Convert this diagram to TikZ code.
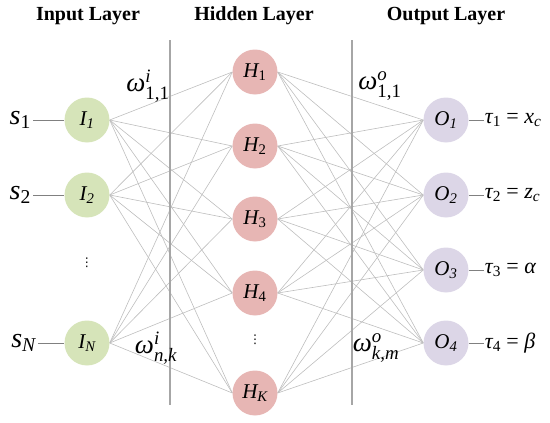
\documentclass[tikz,border=0pt]{standalone}
\usepackage{amsmath}
\usepackage{fontspec}
\setmainfont{Liberation Serif}
\newfontfamily\dotfont{DejaVu Sans}
\usetikzlibrary{positioning,backgrounds}
\definecolor{netLine}{HTML}{BEBEBE}
\definecolor{netBar}{HTML}{A6A6A6}
\definecolor{netFeed}{HTML}{808080}
\definecolor{netIn}{HTML}{D6E4B9}
\definecolor{netHid}{HTML}{E7B6B4}
\definecolor{netOut}{HTML}{DCD6E7}
\newcommand\ti[1]{\text{\itshape #1}}

\begin{document}
\begin{tikzpicture}[
  x=1pt,y=-1pt,
  neuron/.style={circle, minimum size=45pt, inner sep=0pt,
    font=\fontsize{21}{21}\selectfont},
  link/.style={draw=netLine, line width=0.6pt},
  feed/.style={draw=netFeed, line width=0.8pt},
  bar/.style={draw=netBar, line width=2.6pt},
  title/.style={font=\fontsize{20}{20}\selectfont\bfseries},
  sig/.style={font=\fontsize{28}{28}\selectfont, inner sep=2pt},
  tau/.style={font=\fontsize{22}{22}\selectfont, inner sep=1pt},
  wgt/.style={font=\fontsize{27}{27}\selectfont, inner sep=0pt},
  vdot/.style={font=\dotfont\fontsize{12}{12}\selectfont, inner sep=0pt}
]
\useasboundingbox (0,0) rectangle (550,423);

% layer titles
\node[title] (tIn) at (88,16) {Input Layer};
\node[title] (tHid) at (254,16) {Hidden Layer};
\node[title] (tOut) at (446,16) {Output Layer};

% neurons
\node[neuron, fill=netIn] (I1) at (87,120) {$\ti{I}_{\ti{1}}$};
\node[neuron, fill=netIn] (I2) at (87,195) {$\ti{I}_{\ti{2}}$};
\node[neuron, fill=netIn] (IN) at (87,343) {$\ti{I}_{\ti{N}}$};
\node[vdot] (dotI) at (87,263) {⋮};

\node[neuron, fill=netHid] (H1) at (255,72) {$\ti{H}_{\text{1}}$};
\node[neuron, fill=netHid] (H2) at (255,146) {$\ti{H}_{\text{2}}$};
\node[neuron, fill=netHid] (H3) at (255,219) {$\ti{H}_{\text{3}}$};
\node[neuron, fill=netHid] (H4) at (255,293) {$\ti{H}_{\text{4}}$};
\node[neuron, fill=netHid] (HK) at (255,393) {$\ti{H}_{\ti{K}}$};
\node[vdot] (dotH) at (255,340) {⋮};

\node[neuron, fill=netOut] (O1) at (446,120) {$\ti{O}_{\ti{1}}$};
\node[neuron, fill=netOut] (O2) at (446,195) {$\ti{O}_{\ti{2}}$};
\node[neuron, fill=netOut] (O3) at (446,270) {$\ti{O}_{\ti{3}}$};
\node[neuron, fill=netOut] (O4) at (446,343) {$\ti{O}_{\ti{4}}$};

% weights and layer separators, behind the neurons
\begin{scope}[on background layer]
\foreach \a in {I1,I2,IN}
  \foreach \b in {H1,H2,H3,H4,HK}
    \draw[link] (\a.east) -- (\b.west);
\foreach \a in {H1,H2,H3,H4,HK}
  \foreach \b in {O1,O2,O3,O4}
    \draw[link] (\a.east) -- (\b.west);
\draw[bar] (170,40) -- (170,405);
\draw[bar] (352,40) -- (352,405);
\end{scope}

% weight labels
\node[wgt] (wi11) at (148,86) {$\ti{ω}^{\ti{i}}_{\text{1,1}}$};
\node[wgt] (wink) at (156,348) {$\ti{ω}^{\ti{i}}_{\ti{n,k}}$};
\node[wgt] (wo11) at (380,86) {$\ti{ω}^{\ti{o}}_{\text{1,1}}$};
\node[wgt] (wokm) at (376,348) {$\ti{ω}^{\ti{o}}_{\ti{k,m}}$};

% inputs
\node[sig, anchor=east] (s1) at (33,120) {$\ti{s}_{\text{1}}$};
\node[sig, anchor=east] (s2) at (33,195) {$\ti{s}_{\text{2}}$};
\node[sig, anchor=east] (sN) at (38,343) {$\ti{s}_{\ti{N}}$};
\draw[feed] (s1) -- (I1);
\draw[feed] (s2) -- (I2);
\draw[feed] (sN) -- (IN);

% outputs
\node[tau, right=15pt of O1] (t1) {$\ti{τ}_{\text{1}}\text{ = }\ti{x}_{\ti{c}}$};
\node[tau, right=15pt of O2] (t2) {$\ti{τ}_{\text{2}}\text{ = }\ti{z}_{\ti{c}}$};
\node[tau, right=15pt of O3] (t3) {$\ti{τ}_{\text{3}}\text{ = }\ti{α}$};
\node[tau, right=15pt of O4] (t4) {$\ti{τ}_{\text{4}}\text{ = }\ti{β}$};
\draw[feed] (O1) -- (t1);
\draw[feed] (O2) -- (t2);
\draw[feed] (O3) -- (t3);
\draw[feed] (O4) -- (t4);
\end{tikzpicture}
\end{document}
